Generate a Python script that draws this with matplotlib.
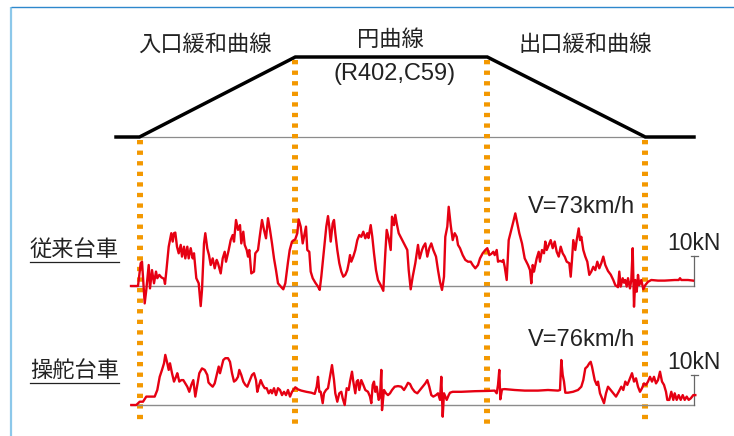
import matplotlib
matplotlib.use("Agg")
import matplotlib.pyplot as plt

# ---------------- data ----------------
# track alignment (position along route, curve level 0 = tangent, 1 = circular curve)
track_pos = [116, 139.5, 295.3, 487.3, 645.3, 694]
track_level = [0, 0, 1, 1, 0, 0]
section_labels = ["入口緩和曲線", "円曲線", "出口緩和曲線"]
curve_note = "(R402,C59)"

# conventional bogie lateral force [kN]
conv_pos = [131, 138, 140.7, 142, 144.7, 146.3, 148.7, 150, 152, 154, 156, 157.3, 159.3, 161.3, 164, 165,
            166.3, 168.7, 171.3, 172.7, 174, 175.3, 177, 178.7, 180.7, 182, 184, 185.3, 187.3, 188.7, 190.7,
            192.7, 194, 196.3, 198.7, 200.7, 202, 204, 205.3, 207.3, 209, 210.7, 212.7, 214.7, 216.7, 218,
            220.7, 222.7, 224.7, 226, 228.7, 230.7, 232.7, 234, 236, 238, 240, 241.3, 243.3, 244.7, 246.7,
            248, 249.3, 251.3, 254, 255.3, 258, 259.7, 262, 264, 266, 268, 270, 272, 274, 276, 278, 281.3,
            283.3, 285.3, 288, 289.7, 292, 295.3, 297.3, 298.7, 300.7, 302.7, 304.7, 306, 307.3, 309.3,
            310.7, 312.7, 315.3, 318, 319.7, 321.3, 324, 326.3, 328, 329.3, 330.7, 332.7, 334, 335.3, 337.3,
            339.3, 341.3, 343.3, 345.3, 347.3, 348.7, 350, 351.3, 353.3, 355.3, 357.3, 359.3, 361.3, 363.3,
            365.3, 367.3, 368.5, 370.7, 372.3, 374, 376, 378, 380.7, 383.3, 385.3, 386.7, 388.7, 390.7, 392,
            394, 395.3, 396.7, 398.7, 401.3, 404.7, 407.3, 408.7, 410.7, 412.7, 415.3, 418, 419.7, 422,
            423.3, 425.3, 427.3, 429.3, 431.3, 433.3, 436, 438, 440, 442, 444, 445.3, 447.3, 448.7, 450.7,
            452.7, 454.7, 456.7, 458, 460, 462.7, 465.3, 468, 470.7, 472.7, 475.3, 478, 480, 482.7, 485.3,
            487.3, 489.3, 491.3, 493.3, 494.7, 496.7, 498, 500, 502, 503.3, 504.7, 506.7, 508.7, 511.3,
            513.3, 515.3, 517.3, 519.3, 522, 524.7, 528, 530, 531.3, 532.7, 534, 536.7, 538.7, 540, 542,
            544, 545.3, 546.7, 548.7, 550.7, 552.7, 554.7, 556.7, 558.7, 560.7, 562.7, 564.7, 566.7, 569.3,
            570.7, 572, 573.3, 575.3, 576.7, 578.7, 580, 581.3, 583.3, 585.3, 587.3, 589.3, 591.3, 593.3,
            595.3, 597.3, 599.3, 601.3, 603.3, 605.3, 608, 610.7, 613.3, 615.3, 618, 619.3, 620.7, 622.7,
            624, 625.3, 626.7, 628, 630, 631.3, 632.7, 634, 635.3, 636.7, 638, 639.3, 641.3, 643.3, 645.3,
            648, 651.3, 658, 664.7, 674.7, 678.7, 680, 681.3, 688, 693]
conv_kN = [0, 0, 7.6, 8.1, -5.8, -1.3, 7, -0.8, 5.3, 0.9, 4.8, 2.6, 3.7, 2.9, 2.4, 0.7,
           4.8, 13.1, 17.6, 14.8, 17.6, 17.8, 13.1, 10.9, 13.7, 9.8, 13.1, 9.2, 13.1, 9.2, 12.6,
           9.2, 10.9, 2.6, 0.9, -6.7, -1.3, 14.2, 17.6, 12.5, 10.3, 7, 9.2, 5.9, 8.7, 7.6,
           4.2, 9.2, 11.4, 8.1, 12, 15.3, 17, 14.8, 22, 18.7, 20.3, 14.2, 18.1, 13.7, 12,
           9.8, 12, 4.2, 4.8, 10.9, 12, 16.4, 22, 18.7, 15.9, 22.6, 18.7, 14.2, 9.2, 5.3, 0.9, -0.4,
           -1.1, 0.9, 8, 12, 14.8, 15.6, 17.6, 22.2, 19.8, 14.2, 17.6, 19.8, 12, 11.4,
           4.8, 2.6, 1.1, -0.2, -1.3, 3.1, 12, 19.8, 23.3, 19.8, 14.8, 20.9, 22, 17.6, 12,
           7.6, 4.8, 3.1, 3.7, 5.3, 7.6, 10.3, 8.1, 9.8, 12, 15.3, 17, 16.4, 18.1,
           15.9, 17.6, 16, 20.3, 16.4, 10.9, 5.3, 2, 0.3, -1.6, 10.9, 18.7, 15.9, 12, 23.1,
           20.3, 23.7, 20.9, 17.6, 15.9, 13.7, 12, 5.3, -1.1, 3.1, 7.6, 13.7, 9.2, 12,
           13.1, 14.2, 9.8, 12.6, 14.2, 12, 9.8, 5.3, 1.4, -1.3, 3.1, 16.4, 19.8, 26.4, 20.3,
           15.3, 17.6, 16.4, 13.7, 12.6, 10.3, 8.7, 8.1, 8.1, 7, 5.9, 7, 9.2, 10.9, 12,
           12.6, 10.3, 10.7, 11.4, 10.3, 12, 8.1, 8.4, 8.1, 8.7, 6.4, 2, 15.3, 18.7,
           21.4, 24.2, 20.9, 17.6, 14.2, 9.2, 7, 5.3, 0.9, 7, 4.8, 9.2, 11.4, 8.1, 12,
           10.9, 14.8, 12, 13.7, 15.3, 12.6, 14.8, 11.4, 9.8, 13.1, 10.9, 9.8, 8.1, 7.6,
           3.1, 8.7, 15.3, 12, 15.3, 19.2, 15.3, 16.4, 12, 9.8, 8.1, 3.7, 4.8, 6.4,
           5.3, 8.1, 5.9, 7.6, 9.8, 7, 5, 3.8, 2, 0.3, -0.4, 4.8, -0.2, 2.6,
           1.1, 2, -0.2, 2.6, -0.8, 2, 12.6, -6.9, 2, -1.9, 3.7, 0.3, 2, -1.1, 0.3,
           1.4, 2, 1.8, 1.8, 2, 2, 2.6, 2, 2, 1.8]

# steering bogie lateral force [kN]
steer_pos = [131.3, 136.3, 139.7, 143, 146.3, 154.7, 157.3, 159.7, 162, 164, 165.3, 167.3, 168.7, 170, 172,
             174, 176, 177.3, 179.3, 181.3, 183.3, 185.3, 187.3, 189.3, 191.3, 193.3, 195.3, 197.3, 199.3,
             202, 204.7, 207.3, 208.5, 210.7, 212.7, 214.7, 216.7, 218.7, 220, 222, 223.3, 225.3, 228, 230,
             232, 234, 236, 238, 239.3, 241.3, 243.3, 245.3, 247.3, 249.3, 252, 254, 256, 257.3, 258.7,
             260.7, 262.7, 264.7, 266.7, 268.7, 270.7, 272, 274, 276, 278, 280, 282, 284, 286, 288, 290, 292,
             295.3, 298, 301.3, 306.3, 311.3, 314.7, 316.7, 318, 319.3, 320.7, 322.7, 324, 326, 328, 330, 332,
             334, 335.3, 337.3, 339.3, 341.3, 342.7, 344.7, 346.7, 348.7, 350, 352, 353.3, 355.3, 356.7, 358,
             359.3, 361.3, 363.3, 365.3, 368, 370, 371.3, 372.7, 374, 375.3, 376.7, 378.7, 380, 381.3, 382,
             384, 386, 388, 390, 392, 394.7, 398, 401.3, 404, 406, 408, 410, 412, 414.7, 417.3, 420, 422.7,
             425.3, 427.3, 429.3, 431.3, 433.3, 436, 438, 440, 441.3, 442.7, 444, 445.3, 446.7, 448.7, 450,
             452.7, 461.3, 474.7, 488, 494.7, 496.7, 498, 499.3, 500.3, 502, 504.7, 514.7, 524.7, 531.3, 538,
             548, 558, 560, 561.3, 562.7, 564, 565.3, 568, 573, 578, 581.3, 583.3, 585.3, 587.3, 589.3, 590.7,
             592, 593.3, 594.7, 596.7, 598, 600, 602, 604, 606, 608, 610.7, 613.3, 616, 618.7, 621.3, 623.3,
             625.3, 627.3, 629.3, 632, 634, 636, 638, 640, 642, 644, 646, 648, 650, 652, 654, 656, 658, 660,
             662, 664, 666, 667.3, 669.3, 671.3, 673.3, 674.7, 676.7, 678.7, 680.7, 682.7, 684.7, 686.7,
             688.7, 690.7, 693.3, 695.3]
steer_kN = [0, 0, 1.1, 1.1, 2.8, 2.8, 5, 9.4, 11.7, 13.9, 16.7, 13.9, 11.7, 13.9, 10.6,
            7.8, 9.4, 10.6, 7.8, 8.3, 8.3, 7.2, 6.1, 4.4, 6.7, 8.3, 2.8, 6.7, 10.6,
            12.2, 11.7, 10, 7.5, 6.7, 6.1, 7.2, 10, 12.8, 10.6, 13.3, 15, 15.6, 15.6, 14.4,
            10.6, 7.8, 8.3, 9.4, 11.7, 10, 7.8, 6.7, 6.1, 7.8, 10, 10.6, 8.3, 4.4, 6.1,
            8.3, 6.7, 5.6, 5.6, 3.9, 5, 3.9, 5.6, 3.3, 5.6, 5, 3.3, 4.4, 3.3, 5, 2.8, 4.4,
            5.9, 5.2, 4.8, 4.4, 4.1, 3.7, 6.1, 9.4, 4.4, 4.4, 0.6, 3.9, 5, 5.6, 9.4, 13.3,
            8.3, 3.9, 1.1, 3.9, 4.4, 2.2, 0, 5.6, 5, 7.8, 11.1, 7.8, 3.9, 7.8, 8.3,
            5, 8.3, 6.7, 5, 4.4, 2.8, 0.6, 6.7, 7.8, 4.4, 6.1, 1.7, 2.8, 11.7, -1.7,
            5, 3.9, 3.3, 3.9, 5, 6.1, 6.3, 6.1, 5, 6.1, 7.4, 7, 5.6, 4.4, 3.9, 5, 6.1,
            7.2, 8.3, 6.1, 3.3, 2.8, 3.3, 3.9, 1.7, 9.4, -3.9, 3.9, 2.8, 1.7, 3.3, 4.1,
            4.4, 4.4, 4.6, 4.7, 4.8, 3.9, 6.7, 11.7, 1.9, 5.2, 5.3, 5, 4.8, 4.8, 4.8,
            5, 4.8, 5, 15, 10, 7.8, 4.1, 4.1, 4.4, 5, 6.1, 8.3, 12.2, 12.8, 13.9, 14.4,
            12.8, 10.6, 8.3, 6.7, 7.8, 3.9, 2.2, 0.6, 3.9, 6.1, 5, 3.9, 2.8, 4.4, 6.1, 5,
            7.8, 6.7, 8.3, 10.6, 7.8, 8.9, 6.1, 4.4, 5.6, 7.2, 6.7, 7.8, 9.4, 7.8, 9.4, 7.2, 8.3, 11.1,
            7.8, 6.7, 4.4, 1.7, 1.7, 4.4, 1.7, 3.9, 1.7, 3.3, 1.7, 3.3, 1.7, 2.8,
            1.7, 2.2, 3.3, 3.3]

bogie_labels = ["従来台車", "操舵台車"]
speed_labels = ["V=73km/h", "V=76km/h"]
scale_kN = 10
scale_label = "10kN"

# ---------------- styling ----------------
RED = "#E60012"
ORANGE = "#F39800"
GRAY = "#8C8C8C"
TXT = "#222222"
JP = ["Noto Sans CJK JP", "DejaVu Sans"]
LAT = ["Liberation Sans", "DejaVu Sans"]

W, H = 734, 436
fig = plt.figure(figsize=(W / 100, H / 100), dpi=100)
fig.patch.set_facecolor("white")


def full_axes(ylim):
    ax = fig.add_axes([0, 0, 1, 1])
    ax.set_xlim(0, W)
    ax.set_ylim(*ylim)
    ax.axis("off")
    ax.patch.set_alpha(0)
    return ax


# background / layout axes in pixel coordinates (y downwards)
bg = full_axes((H, 0))
# track axes: level 0 at pixel row 137, level 1 at row 57 (80 px per unit)
trk = full_axes(((137 - H) / 80, 137 / 80))
# signal axes: 3 px per kN
up = full_axes((-(H - 286) / 3, 286 / 3))
lo = full_axes((-(H - 405) / 3, 405 / 3))

# frame
bg.plot([11, 11], [7, H], color="#8CC8EA", lw=1.6, solid_capstyle="butt")
bg.plot([11, W], [7, 7], color="#2E88CC", lw=1.0, solid_capstyle="butt")

# track diagram
trk.plot([track_pos[0], track_pos[-1]], [0, 0], color=GRAY, lw=0.9, zorder=2)
trk.plot(track_pos, track_level, color="black", lw=2.5, zorder=3, solid_joinstyle="miter")

# section boundaries (dotted orange)
for p, lvl in zip(track_pos[1:-1], track_level[1:-1]):
    top = lvl - 0.04 if lvl > 0 else -0.035
    trk.plot([p, p], [top, (137 - 424) / 80], color=ORANGE, lw=4.3,
             dashes=(0.72, 1.05), solid_capstyle="butt", dash_capstyle="butt", zorder=5)

# section labels
bg.text(205, 44, section_labels[0], family=JP, fontsize=16, color=TXT, ha="center", va="center")
bg.text(390, 39, section_labels[1], family=JP, fontsize=16, color=TXT, ha="center", va="center")
bg.text(395, 74, curve_note, family=LAT, fontsize=17, color=TXT, ha="center", va="center")
bg.text(585.5, 44, section_labels[2], family=JP, fontsize=16, color=TXT, ha="center", va="center")

# signals
for ax, xs, ys, name, sp, base_y, lab_y, sp_y, sc_y in [
    (up, conv_pos, conv_kN, bogie_labels[0], speed_labels[0], 286, 249, 207, 243),
    (lo, steer_pos, steer_kN, bogie_labels[1], speed_labels[1], 405, 370, 340, 362),
]:
    ax.plot([xs[0], 694], [0, 0], color=GRAY, lw=1.0, zorder=2)
    ax.plot(xs, ys, color=RED, lw=1.7, zorder=4, solid_joinstyle="round")
    # scale bar
    ax.plot([694, 694], [0, scale_kN], color="#666666", lw=0.9, zorder=3)
    ax.plot([690.5, 697.5], [scale_kN, scale_kN], color="#666666", lw=0.9, zorder=3)
    bg.text(694, sc_y, scale_label, family=LAT, fontsize=16.5, color=TXT, ha="center", va="center")
    bg.text(581.5, sp_y, sp, family=LAT, fontsize=17, color=TXT, ha="center", va="center")
    bg.text(74.5, lab_y, name, family=JP, fontsize=16, color=TXT, ha="center", va="center")
    bg.plot([30, 119], [lab_y + 12.7, lab_y + 12.7], color=TXT, lw=0.9)

fig.savefig("out.png", dpi=100, facecolor="white")
